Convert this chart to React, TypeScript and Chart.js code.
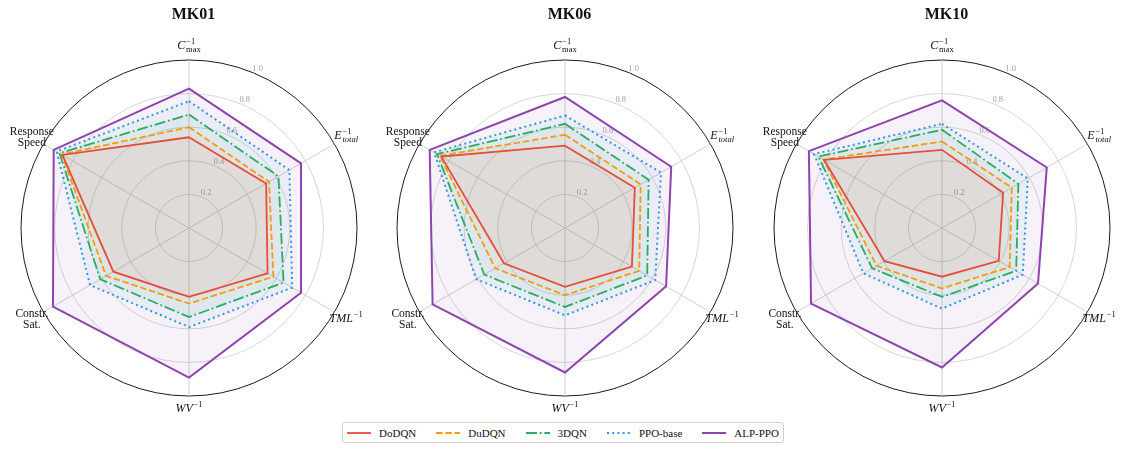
import { useEffect, useRef } from 'react'
import { Chart, registerables } from 'chart.js'

Chart.register(...registerables)

// axes, clockwise from the top
const axisNames = ['Cmax⁻¹', 'Etotal⁻¹', 'TML⁻¹', 'WV⁻¹', 'Constr. Sat.', 'Response Speed']
const methods = ['DoDQN', 'DuDQN', '3DQN', 'PPO-base', 'ALP-PPO']
const tickStep = 0.2

// MK01
const mk01DoDQN = [0.54, 0.53, 0.54, 0.41, 0.52, 0.87]
const mk01DuDQN = [0.6, 0.55, 0.58, 0.45, 0.57, 0.875]
const mk01ThreeDQN = [0.675, 0.615, 0.65, 0.53, 0.61, 0.89]
const mk01PPO = [0.755, 0.69, 0.71, 0.59, 0.68, 0.91]
const mk01ALP = [0.83, 0.77, 0.77, 0.89, 0.935, 0.93]

// MK06
const mk06DoDQN = [0.49, 0.48, 0.46, 0.35, 0.42, 0.85]
const mk06DuDQN = [0.555, 0.52, 0.51, 0.4, 0.48, 0.86]
const mk06ThreeDQN = [0.62, 0.575, 0.565, 0.47, 0.555, 0.88]
const mk06PPO = [0.67, 0.66, 0.62, 0.52, 0.61, 0.9]
const mk06ALP = [0.78, 0.73, 0.695, 0.86, 0.91, 0.93]

// MK10
const mk10DoDQN = [0.465, 0.42, 0.39, 0.29, 0.395, 0.81]
const mk10DuDQN = [0.515, 0.48, 0.465, 0.36, 0.45, 0.815]
const mk10ThreeDQN = [0.585, 0.525, 0.51, 0.41, 0.48, 0.85]
const mk10PPO = [0.62, 0.59, 0.555, 0.48, 0.54, 0.88]
const mk10ALP = [0.76, 0.72, 0.66, 0.83, 0.9, 0.915]

const FONT = '"Liberation Serif", "DejaVu Serif", serif'
const lineColors = ['#e74c3c', '#f39c12', '#27ae60', '#3498db', '#8e44ad']
const fillColors = [
  'rgba(231, 76, 60, 0.05)',
  'rgba(243, 156, 18, 0.06)',
  'rgba(39, 174, 96, 0.07)',
  'rgba(52, 152, 219, 0.07)',
  'rgba(142, 68, 173, 0.07)',
]
const lineWidths = [1.8, 1.8, 1.8, 2, 2]
const lineDashes: number[][] = [[], [6.5, 2.8], [11, 2.8, 1.8, 2.8], [2, 3.2], []]

type Piece = { text: string; italic?: boolean }
type AxisLabel = { lines?: string[]; base?: Piece; sup?: Piece; sub?: Piece }

const axisLabelStyle: AxisLabel[] = [
  { base: { text: 'C', italic: true }, sup: { text: '−1' }, sub: { text: 'max' } },
  { base: { text: 'E', italic: true }, sup: { text: '−1' }, sub: { text: 'total', italic: true } },
  { base: { text: 'TML', italic: true }, sup: { text: '−1' } },
  { base: { text: 'WV', italic: true }, sup: { text: '−1' } },
  { lines: ['Constr.', 'Sat.'] },
  { lines: ['Response', 'Speed'] },
]

const font = (size: number, italic?: boolean, bold?: boolean) =>
  `${italic ? 'italic ' : ''}${bold ? 'bold ' : ''}${size}px ${FONT}`

function drawAxisLabel(c: CanvasRenderingContext2D, spec: AxisLabel, cx: number, cy: number) {
  c.fillStyle = '#111'
  c.textBaseline = 'alphabetic'
  if (spec.lines) {
    c.font = font(11.5)
    c.textAlign = 'center'
    c.fillText(spec.lines[0], cx, cy - 2)
    c.fillText(spec.lines[1], cx, cy + 9)
    return
  }
  const base = spec.base!
  c.font = font(12, base.italic)
  const bw = c.measureText(base.text).width
  c.font = font(8.5, spec.sup?.italic)
  const sw = spec.sup ? c.measureText(spec.sup.text).width : 0
  c.font = font(8.5, spec.sub?.italic)
  const subw = spec.sub ? c.measureText(spec.sub.text).width : 0
  const w = bw + 0.8 + Math.max(sw, subw)
  const x0 = cx - w / 2
  const baseline = cy + (spec.sub ? 2 : 3)
  c.textAlign = 'left'
  c.font = font(12, base.italic)
  c.fillText(base.text, x0, baseline)
  if (spec.sup) {
    c.font = font(8.5, spec.sup.italic)
    c.fillText(spec.sup.text, x0 + bw + 0.8, baseline - 5)
  }
  if (spec.sub) {
    c.font = font(8.5, spec.sub.italic)
    c.fillText(spec.sub.text, x0 + bw + 0.8, baseline + 3)
  }
}

function labelPlugin(title: string) {
  return {
    id: 'radarLabels',
    beforeDatasetsDraw(chart: any) {
      const scale = chart.scales.r
      const c: CanvasRenderingContext2D = chart.ctx
      const th = -Math.PI / 2 + Math.PI / 8
      c.save()
      c.font = font(8.5)
      c.fillStyle = '#a0a0a0'
      c.textAlign = 'left'
      c.textBaseline = 'bottom'
      scale.ticks.forEach((t: any) => {
        if (t.value <= 0) return
        const d = scale.getDistanceFromCenterForValue(t.value)
        const x = scale.xCenter + Math.cos(th) * d
        const y = scale.yCenter + Math.sin(th) * d
        c.fillText(t.value.toFixed(1), x - 1, y + 0.5)
      })
      c.restore()
    },
    afterDraw(chart: any) {
      const scale = chart.scales.r
      const c: CanvasRenderingContext2D = chart.ctx
      c.save()
      axisLabelStyle.forEach((spec, i) => {
        const p = scale.getPointPositionForValue(i, 1.08)
        drawAxisLabel(c, spec, p.x, p.y)
      })
      c.font = font(16, false, true)
      c.fillStyle = '#111'
      c.textAlign = 'center'
      c.textBaseline = 'middle'
      c.fillText(title, scale.xCenter + 4.5, 15)
      c.restore()
    },
  }
}

function RadarPanel({ title, series, left }: { title: string; series: number[][]; left: number }) {
  const chartRef = useRef<HTMLCanvasElement>(null)

  useEffect(() => {
    if (!chartRef.current) return
    const ctx = chartRef.current.getContext('2d')
    if (!ctx) return

    const chart = new Chart(ctx, {
      type: 'radar',
      data: {
        labels: axisNames,
        datasets: methods.map((m, i) => ({
          label: m,
          data: series[i],
          borderColor: lineColors[i],
          backgroundColor: fillColors[i],
          borderWidth: lineWidths[i],
          borderDash: lineDashes[i],
          borderJoinStyle: 'miter' as const,
          fill: true,
          pointRadius: 0,
          pointHoverRadius: 0,
        })),
      },
      options: {
        responsive: true,
        maintainAspectRatio: false,
        animation: false,
        layout: { padding: { left: 19, right: 19, top: 60, bottom: 24 } },
        plugins: {
          legend: { display: false },
          tooltip: { enabled: false },
        },
        scales: {
          r: {
            min: 0,
            max: 1,
            ticks: { stepSize: tickStep, display: false },
            pointLabels: { display: false },
            grid: {
              circular: true,
              color: (c: any) => (c.tick && c.tick.value >= 0.999 ? '#1a1a1a' : '#cccccc'),
              lineWidth: (c: any) => (c.tick && c.tick.value >= 0.999 ? 1 : 0.8),
            },
            angleLines: { color: '#c4c4c4', lineWidth: 0.8 },
          },
        },
      },
      plugins: [labelPlugin(title)],
    })

    return () => {
      chart.destroy()
    }
  }, [title, series])

  return (
    <div style={{ position: 'absolute', left, top: 0, width: 374, height: 420 }}>
      <canvas ref={chartRef}></canvas>
    </div>
  )
}

const mk01 = [mk01DoDQN, mk01DuDQN, mk01ThreeDQN, mk01PPO, mk01ALP]
const mk06 = [mk06DoDQN, mk06DuDQN, mk06ThreeDQN, mk06PPO, mk06ALP]
const mk10 = [mk10DoDQN, mk10DuDQN, mk10ThreeDQN, mk10PPO, mk10ALP]

function Legend() {
  return (
    <div
      style={{
        position: 'absolute',
        left: 342,
        top: 422,
        height: 19,
        display: 'flex',
        alignItems: 'center',
        padding: '0 4px 0 4px',
        border: '1px solid #cfcfcf',
        borderRadius: 3,
        background: '#fff',
        fontFamily: FONT,
        fontSize: 11,
        color: '#111',
        whiteSpace: 'nowrap',
      }}
    >
      {methods.map((m, i) => (
        <div key={m} style={{ display: 'flex', alignItems: 'center', marginRight: i < methods.length - 1 ? 20 : 0 }}>
          <svg width={24} height={6} style={{ marginRight: 8 }}>
            <line
              x1={0}
              y1={3}
              x2={24}
              y2={3}
              stroke={lineColors[i]}
              strokeWidth={lineWidths[i]}
              strokeDasharray={lineDashes[i].length ? lineDashes[i].join(' ') : undefined}
            />
          </svg>
          <span>{m}</span>
        </div>
      ))}
    </div>
  )
}

export default function App() {
  return (
    <div style={{ position: 'absolute', left: 0, top: 0, width: 1124, height: 452, overflow: 'hidden', background: '#fff' }}>
      <RadarPanel title="MK01" series={mk01} left={2} />
      <RadarPanel title="MK06" series={mk06} left={378} />
      <RadarPanel title="MK10" series={mk10} left={755} />
      <Legend />
    </div>
  )
}
